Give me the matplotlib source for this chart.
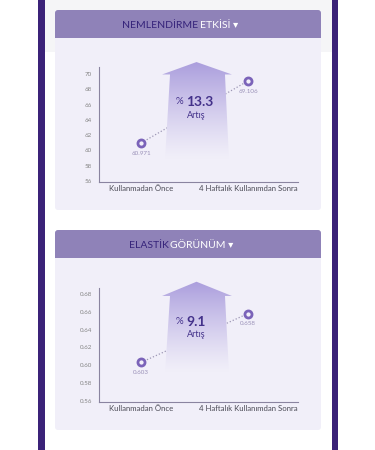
import numpy as np
import matplotlib.pyplot as plt
from matplotlib.patches import Rectangle, FancyBboxPatch, Polygon
from matplotlib.colors import to_rgb

plt.rcParams['font.family'] = ['Lato', 'DejaVu Sans']

categories = ['Kullanmadan Önce', '4 Haftalık Kullanımdan Sonra']

nem_title = ('NEMLENDİRME', 'ETKİSİ ▾')
nem_values = [60.971, 69.106]
nem_ticks = [56, 58, 60, 62, 64, 66, 68, 70]
nem_labels = ['56', '58', '60', '62', '64', '66', '68', '70']
nem_pct = '13.3'

ela_title = ('ELASTİK', 'GÖRÜNÜM ▾')
ela_values = [0.603, 0.658]
ela_ticks = [0.56, 0.58, 0.60, 0.62, 0.64, 0.66, 0.68]
ela_labels = ['0.56', '0.58', '0.60', '0.62', '0.64', '0.66', '0.68']
ela_pct = '9.1'

W, H = 375, 450
DARK = '#3b2278'
HEAD = '#8f82b8'
BODY = '#f1eff9'
TXT = '#43318a'

fig = plt.figure(figsize=(W / 100, H / 100), dpi=100)
fig.patch.set_facecolor('white')

bg = fig.add_axes([0, 0, 1, 1])
bg.set_xlim(0, W)
bg.set_ylim(H, 0)
bg.axis('off')

bg.add_patch(Rectangle((45, 0), 287, 52, color='#f5f5f7', lw=0))
bg.add_patch(Rectangle((37.5, 0), 7.5, H, color=DARK, lw=0))
bg.add_patch(Rectangle((331.5, 0), 6.5, H, color=DARK, lw=0))


def card(top, title, split):
    bg.add_patch(FancyBboxPatch((55, top), 266, 200, boxstyle='round,pad=0,rounding_size=3',
                                color=BODY, lw=0))
    bg.add_patch(FancyBboxPatch((55, top), 266, 28, boxstyle='round,pad=0,rounding_size=3',
                                color=HEAD, lw=0))
    bg.add_patch(Rectangle((55, top + 20), 266, 8, color=HEAD, lw=0))
    bg.text(split, top + 15.5, title[0], ha='right', va='center', color='#35237a',
            fontsize=7.5)
    bg.text(split + 1.5, top + 15.5, title[1], ha='left', va='center', color='white',
            fontsize=7.5)


card(10, nem_title, 198)
card(230, ela_title, 168.5)


def chart(rect, values, ticks, labels, ylim, pct, head_y, tip_y, bottom_y, pct_y, artis_y):
    ax = fig.add_axes(rect)
    ax.set_facecolor('none')
    for s in ['top', 'right']:
        ax.spines[s].set_visible(False)
    for s in ['left', 'bottom']:
        ax.spines[s].set_color('#8a84a0')
        ax.spines[s].set_linewidth(0.8)

    x = np.arange(len(values))
    ax.plot(x, values, ls=(0, (1, 1.6)), color='#9d97b5', lw=0.9, zorder=2)

    # gradient arrow, blends into the card colour so it hides the dotted line
    n = 256
    top_c = np.array(to_rgb('#ab9edd'))
    bot_c = np.array(to_rgb(BODY))
    t = (np.linspace(1, 0, n) ** 1.2)[:, None]
    rgb = bot_c + (top_c - bot_c) * t
    rgba = np.ones((n, 2, 4))
    rgba[..., :3] = rgb[:, None, :]
    hx0, hx1, tx = 0.317, 0.668, 0.49
    sx0, sx1 = 0.357, 0.633
    bx0, bx1 = 0.332, 0.653
    im = ax.imshow(rgba, extent=[hx0, hx1, bottom_y, tip_y], transform=ax.transAxes,
                   aspect='auto', origin='upper', zorder=3, interpolation='bilinear')
    poly = Polygon([(bx0, bottom_y), (sx0, head_y), (hx0, head_y), (tx, tip_y),
                    (hx1, head_y), (sx1, head_y), (bx1, bottom_y)],
                   closed=True, transform=ax.transAxes, fc='none', ec='none')
    ax.add_patch(poly)
    im.set_clip_box(fig.bbox)
    im.set_clip_path(poly)

    ax.scatter(x, values, s=26, facecolor=BODY, edgecolor='#7b63b9', linewidth=2,
               zorder=4, clip_on=False)
    for xi, v in zip(x, values):
        ax.annotate(str(v), (xi, v), xytext=(0, -7.5), textcoords='offset points',
                    ha='center', va='center', fontsize=4.5, color='#9a91b8', zorder=5)

    sx = 0.437
    ax.text(sx, pct_y, '% ', transform=ax.transAxes, ha='right', va='center',
            fontsize=7, color=TXT, zorder=5)
    ax.text(sx, pct_y, pct, transform=ax.transAxes, ha='left', va='center',
            fontsize=10, fontweight='bold', color=TXT, zorder=5)
    ax.text(tx, artis_y, 'Artış', transform=ax.transAxes, ha='center', va='center',
            fontsize=6.5, color=TXT, zorder=5)

    ax.set_xlim(-0.393, 1.467)
    ax.set_ylim(*ylim)
    ax.set_yticks(ticks)
    ax.set_yticklabels(labels)
    ax.set_xticks(x)
    ax.set_xticklabels(categories)
    ax.tick_params(axis='y', length=0, pad=5, labelsize=4.5, labelcolor='#858585')
    ax.tick_params(axis='x', length=0, pad=2.5, labelsize=5.6, labelcolor='#4a4a55')
    return ax


chart([99 / W, (H - 182) / H, 199 / W, 115 / H], nem_values, nem_ticks, nem_labels,
      (55.87, 70.92), nem_pct, 0.935, 1.043, 0.2, 0.698, 0.574)
chart([99 / W, (H - 402) / H, 199 / W, 114 / H], ela_values, ela_ticks, ela_labels,
      (0.5585, 0.6867), ela_pct, 0.93, 1.055, 0.26, 0.704, 0.588)

fig.savefig('out.png', dpi=100)
